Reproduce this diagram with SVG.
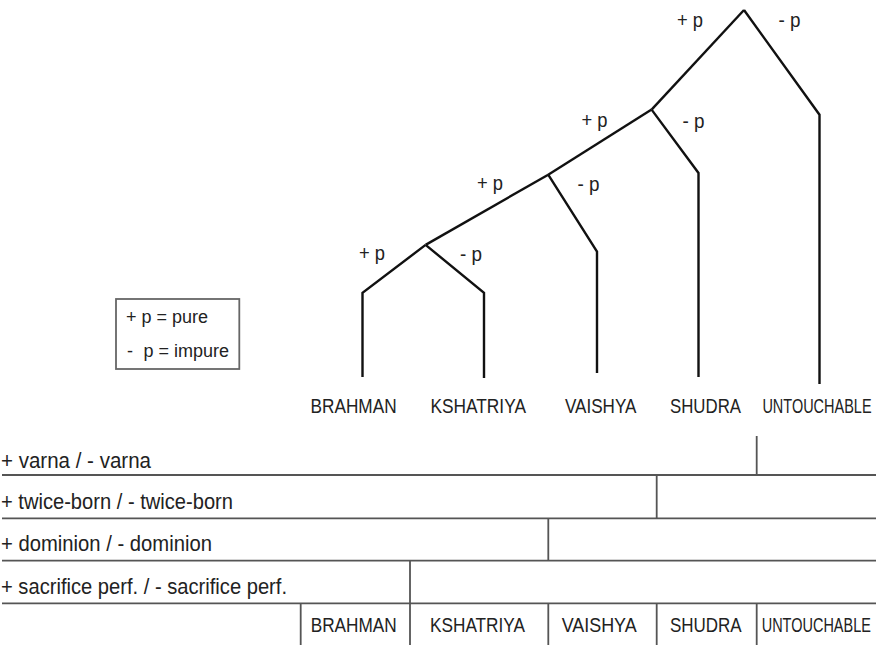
<svg xmlns="http://www.w3.org/2000/svg" width="876" height="645" viewBox="0 0 876 645">
  <style>
    .branch { fill: none; stroke: #111; stroke-width: 2.4; stroke-linejoin: miter; }
    .grid { fill: none; stroke: #555; stroke-width: 1.8; }
    .lbl { font-family: "Liberation Sans", Arial, sans-serif; font-size: 19.5px; fill: #222; }
    .key { font-family: "Liberation Sans", Arial, sans-serif; font-size: 18px; fill: #222; }
    .caste { font-family: "Liberation Sans Narrow", "Liberation Sans", Arial, sans-serif; font-size: 21px; fill: #222; }
    .feat { font-family: "Liberation Sans Narrow", "Liberation Sans", Arial, sans-serif; font-size: 22px; fill: #222; }
  </style>
  <rect width="876" height="645" fill="#fff"/>

  <!-- purity tree -->
  <g id="connectors">
    <path class="branch" d="M744,10 L819.5,114.7 L819.5,384"/>
    <path class="branch" d="M744,10 L651.6,109.6"/>
    <path class="branch" d="M651.6,109.6 L698.5,173 L698.5,377"/>
    <path class="branch" d="M651.6,109.6 L548.2,174.7"/>
    <path class="branch" d="M548.2,174.7 L597,251.7 L597,373"/>
    <path class="branch" d="M548.2,174.7 L425.6,244.9"/>
    <path class="branch" d="M425.6,244.9 L484,292.8 L484,378"/>
    <path class="branch" d="M425.6,244.9 L362.5,292.8 L362.5,377"/>
  </g>

  <g id="branch-labels">
    <text class="lbl" x="677" y="27" textLength="26" lengthAdjust="spacingAndGlyphs">+ p</text>
    <text class="lbl" x="778.5" y="27" textLength="22" lengthAdjust="spacingAndGlyphs">- p</text>
    <text class="lbl" x="581.5" y="127" textLength="26" lengthAdjust="spacingAndGlyphs">+ p</text>
    <text class="lbl" x="682.5" y="128" textLength="22" lengthAdjust="spacingAndGlyphs">- p</text>
    <text class="lbl" x="477" y="189.5" textLength="26" lengthAdjust="spacingAndGlyphs">+ p</text>
    <text class="lbl" x="577.5" y="191" textLength="22" lengthAdjust="spacingAndGlyphs">- p</text>
    <text class="lbl" x="359" y="260" textLength="26" lengthAdjust="spacingAndGlyphs">+ p</text>
    <text class="lbl" x="460" y="261" textLength="22" lengthAdjust="spacingAndGlyphs">- p</text>
  </g>

  <g id="node-brahman"><text class="caste" x="310.6" y="413" textLength="86" lengthAdjust="spacingAndGlyphs">BRAHMAN</text></g>
  <g id="node-kshatriya"><text class="caste" x="430.4" y="413" textLength="95.6" lengthAdjust="spacingAndGlyphs">KSHATRIYA</text></g>
  <g id="node-vaishya"><text class="caste" x="565" y="413" textLength="71.4" lengthAdjust="spacingAndGlyphs">VAISHYA</text></g>
  <g id="node-shudra"><text class="caste" x="670" y="413" textLength="71" lengthAdjust="spacingAndGlyphs">SHUDRA</text></g>
  <g id="node-untouchable"><text class="caste" transform="translate(762.4,413) scale(0.69,1)">UNTOUCHABLE</text></g>

  <!-- key -->
  <g id="legend">
    <rect x="116" y="299" width="123.3" height="70" fill="#fff" stroke="#666" stroke-width="1.8"/>
    <text class="key" x="126" y="323">+ p = pure</text>
    <text class="key" y="356.7"><tspan x="127">-</tspan><tspan x="143.5">p = impure</tspan></text>
  </g>

  <!-- feature table -->
  <g id="table">
    <path class="grid" d="M2,475 H876 M2,518.3 H876 M2,560.7 H876 M2,603.3 H876"/>
    <path class="grid" d="M756.7,436 V475 M656.7,475 V518.3 M548.3,518.3 V560.7 M410,560.7 V603.3"/>
    <path class="grid" d="M300.7,603.3 V645 M410,603.3 V645 M548.3,603.3 V645 M656.7,603.3 V645 M756.7,603.3 V645"/>
    <text class="feat" x="1" y="468" textLength="150" lengthAdjust="spacingAndGlyphs">+ varna / - varna</text>
    <text class="feat" x="1" y="508.5" textLength="232" lengthAdjust="spacingAndGlyphs">+ twice-born / - twice-born</text>
    <text class="feat" x="1" y="551" textLength="211" lengthAdjust="spacingAndGlyphs">+ dominion / - dominion</text>
    <text class="feat" x="1" y="593.5" textLength="286" lengthAdjust="spacingAndGlyphs">+ sacrifice perf. / - sacrifice perf.</text>
    <text class="caste" x="310.7" y="632" textLength="86" lengthAdjust="spacingAndGlyphs">BRAHMAN</text>
    <text class="caste" x="430" y="632" textLength="95" lengthAdjust="spacingAndGlyphs">KSHATRIYA</text>
    <text class="caste" x="561.7" y="632" textLength="75" lengthAdjust="spacingAndGlyphs">VAISHYA</text>
    <text class="caste" x="670" y="632" textLength="71.7" lengthAdjust="spacingAndGlyphs">SHUDRA</text>
    <text class="caste" transform="translate(761.7,632) scale(0.69,1)">UNTOUCHABLE</text>
  </g>
</svg>
